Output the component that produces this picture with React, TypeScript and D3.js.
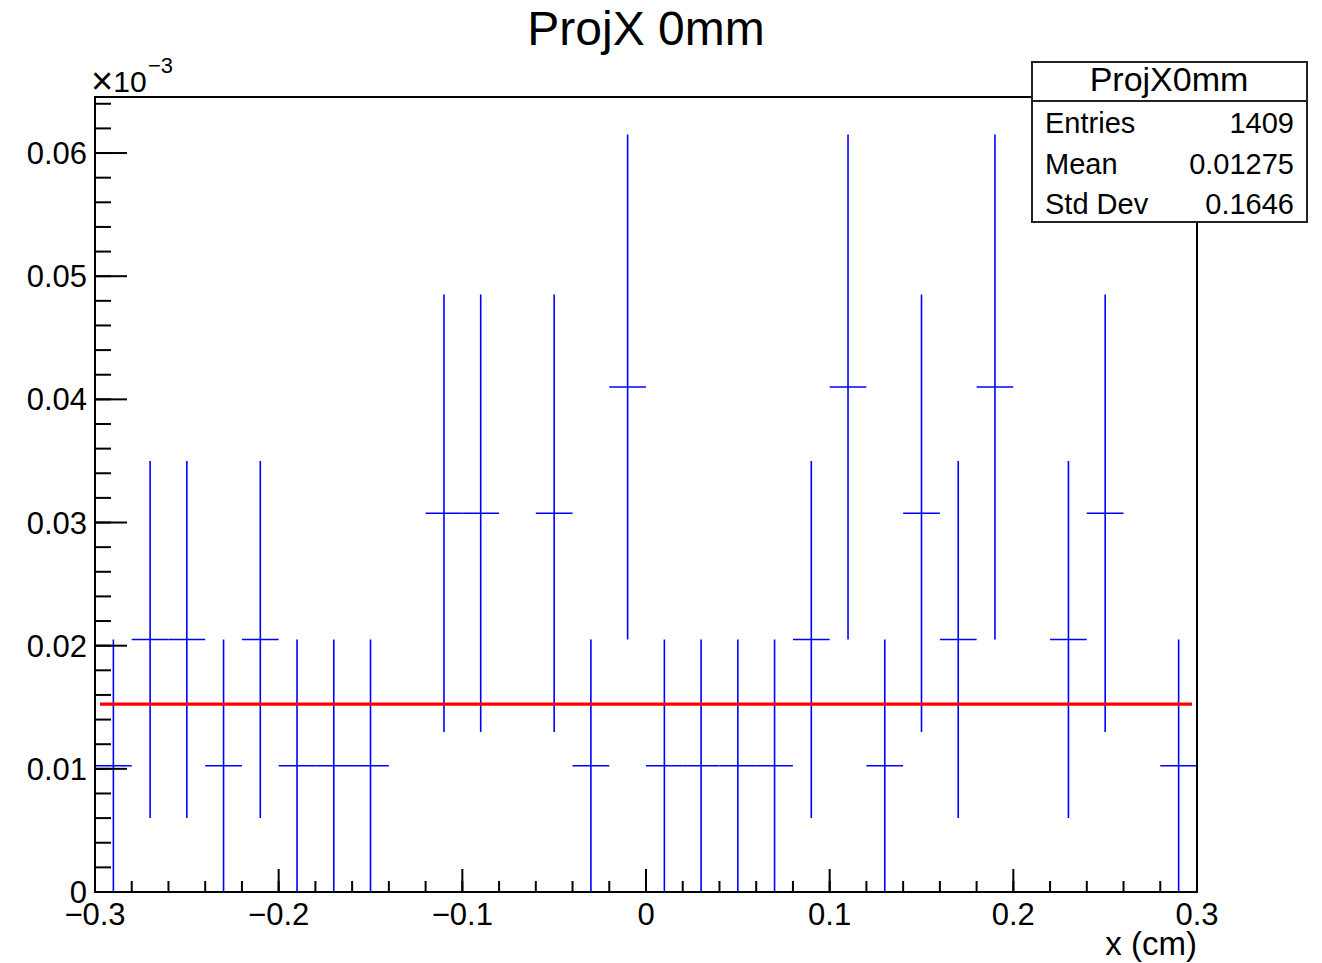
import React from "react";
import * as d3 from "d3";

// ---- data ----
const binCenters = [
  -0.29, -0.27, -0.25, -0.23, -0.21, -0.19, -0.17, -0.15, -0.13, -0.11,
  -0.09, -0.07, -0.05, -0.03, -0.01, 0.01, 0.03, 0.05, 0.07, 0.09,
  0.11, 0.13, 0.15, 0.17, 0.19, 0.21, 0.23, 0.25, 0.27, 0.29,
];
const binWidth = 0.02;
const binValues = [
  0.01025, 0.0205, 0.0205, 0.01025, 0.0205, 0.01025, 0.01025, 0.01025, 0, 0.03075,
  0.03075, 0, 0.03075, 0.01025, 0.041, 0.01025, 0.01025, 0.01025, 0.01025, 0.0205,
  0.041, 0.01025, 0.03075, 0.0205, 0.041, 0, 0.0205, 0.03075, 0, 0.01025,
];
const binErrors = [
  0.01025, 0.0145, 0.0145, 0.01025, 0.0145, 0.01025, 0.01025, 0.01025, 0, 0.01776,
  0.01776, 0, 0.01776, 0.01025, 0.0205, 0.01025, 0.01025, 0.01025, 0.01025, 0.0145,
  0.0205, 0.01025, 0.01776, 0.0145, 0.0205, 0, 0.0145, 0.01776, 0, 0.01025,
];
const fitConstant = 0.01526;
const fitRange = [-0.2973, 0.2973];
const xDomain = [-0.3, 0.3];
const yDomain = [0, 0.06455];
const xMajorTicks = [-0.3, -0.2, -0.1, 0, 0.1, 0.2, 0.3];
const xTickLabels = ["\u22120.3", "\u22120.2", "\u22120.1", "0", "0.1", "0.2", "0.3"];
const yMajorTicks = [0, 0.01, 0.02, 0.03, 0.04, 0.05, 0.06];
const yTickLabels = ["0", "0.01", "0.02", "0.03", "0.04", "0.05", "0.06"];
const statsTitle = "ProjX0mm";
const statsLabels = ["Entries", "Mean", "Std Dev"];
const statsValues = ["1409", "0.01275", "0.1646"];
const title = "ProjX 0mm";
const xTitle = "x (cm)";

const FONT = "'Liberation Sans', Arial, Helvetica, sans-serif";

export default function App() {
  const L = 95, R = 1197, T = 97, B = 892;
  const x = d3.scaleLinear().domain(xDomain).range([L, R]);
  const y = d3.scaleLinear().domain(yDomain).range([B, T]);

  const xMinor = d3.range(-0.3, 0.3001, 0.02).map((v) => +v.toFixed(3));
  const yMinor = d3.range(0, yDomain[1], 0.002).map((v) => +v.toFixed(4));

  const blue = "#0000ff";
  return (
    <svg
      width={1322}
      height={963}
      style={{ position: "absolute", left: 0, top: 0, background: "#fff" }}
      fontFamily={FONT}
    >
      <rect x={0} y={0} width={1322} height={963} fill="#fff" />
      {/* title */}
      <text x={646} y={45} fontSize={48} textAnchor="middle" fill="#000">
        {title}
      </text>

      {/* data: error bars */}
      <g stroke={blue} strokeWidth={1.6}>
        {binCenters.map((c, i) => {
          const v = binValues[i];
          if (v <= 0) return null;
          const e = binErrors[i];
          return (
            <g key={i}>
              <line x1={x(c)} x2={x(c)} y1={y(Math.max(0, v - e))} y2={y(v + e)} />
              <line x1={x(c - binWidth / 2)} x2={x(c + binWidth / 2)} y1={y(v)} y2={y(v)} />
            </g>
          );
        })}
      </g>

      {/* fit */}
      <line
        x1={x(fitRange[0])}
        x2={x(fitRange[1])}
        y1={y(fitConstant)}
        y2={y(fitConstant)}
        stroke="#ff0000"
        strokeWidth={3.2}
      />

      {/* frame */}
      <rect x={L} y={T} width={R - L} height={B - T} fill="none" stroke="#000" strokeWidth={2} />

      {/* ticks */}
      <g stroke="#000" strokeWidth={2}>
        {xMinor.map((v, i) => (
          <line key={"xm" + i} x1={x(v)} x2={x(v)} y1={B} y2={B - 11} />
        ))}
        {xMajorTicks.map((v, i) => (
          <line key={"xM" + i} x1={x(v)} x2={x(v)} y1={B} y2={B - 23} />
        ))}
        {yMinor.map((v, i) => (
          <line key={"ym" + i} x1={L} x2={L + 16} y1={y(v)} y2={y(v)} />
        ))}
        {yMajorTicks.map((v, i) => (
          <line key={"yM" + i} x1={L} x2={L + 32} y1={y(v)} y2={y(v)} />
        ))}
      </g>

      {/* x labels */}
      {xMajorTicks.map((v, i) => (
        <text key={"xl" + i} x={x(v)} y={925} fontSize={31} textAnchor="middle" fill="#000">
          {xTickLabels[i]}
        </text>
      ))}
      {/* y labels */}
      {yMajorTicks.map((v, i) => (
        <text key={"yl" + i} x={87} y={y(v) + 11} fontSize={31} textAnchor="end" fill="#000">
          {yTickLabels[i]}
        </text>
      ))}
      {/* exponent */}
      <text x={91} y={92} fontSize={30} fill="#000">
        <tspan fontSize={38} dy={2}>{"\u00d7"}</tspan>
        <tspan fontSize={30} dy={-2}>10</tspan>
      </text>
      <text x={148} y={73} fontSize={22} fill="#000">
        {"\u22123"}
      </text>

      {/* x title */}
      <text x={1197} y={955} fontSize={33} textAnchor="end" fill="#000">
        {xTitle}
      </text>

      {/* stats box */}
      <g>
        <rect x={1032} y={62} width={275} height={160} fill="#fff" stroke="#222" strokeWidth={2} />
        <line x1={1032} x2={1307} y1={101} y2={101} stroke="#222" strokeWidth={2} />
        <text x={1169} y={91} fontSize={34} textAnchor="middle" fill="#000">
          {statsTitle}
        </text>
        {statsLabels.map((s, i) => (
          <g key={"st" + i}>
            <text x={1045} y={133 + i * 40.5} fontSize={29} fill="#000">
              {s}
            </text>
            <text x={1294} y={133 + i * 40.5} fontSize={29} textAnchor="end" fill="#000">
              {statsValues[i]}
            </text>
          </g>
        ))}
      </g>
    </svg>
  );
}
